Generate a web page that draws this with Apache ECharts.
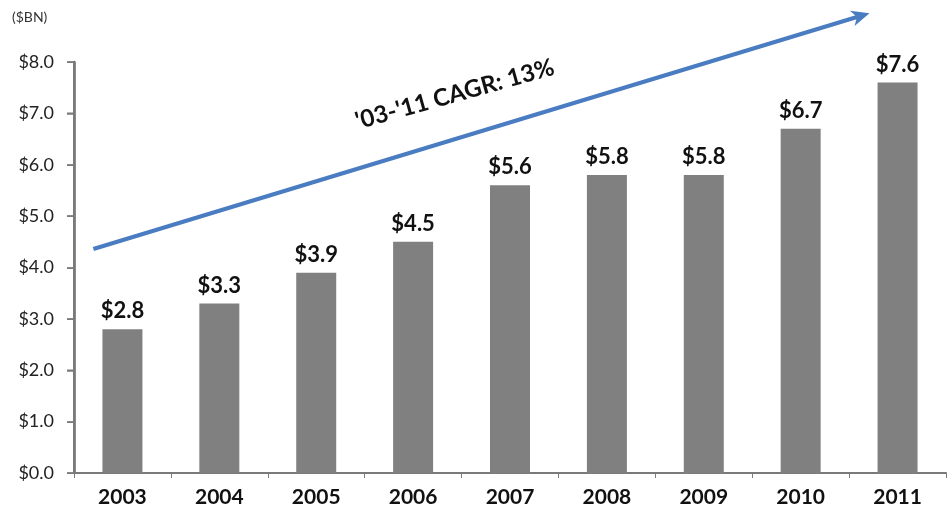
<!DOCTYPE html>
<html>
<head>
<meta charset="utf-8">
<script src="https://cdn.jsdelivr.net/npm/echarts@6/dist/echarts.min.js"></script>
<style>
  html, body { margin: 0; padding: 0; background: #ffffff; }
  #chart { width: 952px; height: 520px; }
</style>
</head>
<body>
<div id="chart"></div>
<script>
// ---- data ----
const years = ['2003', '2004', '2005', '2006', '2007', '2008', '2009', '2010', '2011'];
const values = [2.8, 3.3, 3.9, 4.5, 5.6, 5.8, 5.8, 6.7, 7.6];
const yMin = 0, yMax = 8, yStep = 1;
const yTicks = [0, 1, 2, 3, 4, 5, 6, 7, 8];
const unitLabel = '($BN)';
const cagrLabel = "'03-'11 CAGR: 13%";
// arrow annotation in data units (x = category index position, y = value)
const arrowFrom = [-0.30, 4.36];
const arrowTo = [7.71, 8.95];
const cagrTextAt = [3.43, 7.37];

const FONT = 'Lato, "Open Sans", sans-serif';
const AXIS_GRAY = '#7a7a7a';
const BAR_GRAY = '#808080';
const ARROW_BLUE = '#4A7CC2';
const chart = echarts.init(document.getElementById('chart'));

function renderAnnotation(params, api) {
  const c0 = api.coord([0, 0]);
  const c1 = api.coord([1, 0]);
  const step = c1[0] - c0[0];
  const toPx = p => [c0[0] + p[0] * step, api.coord([0, p[1]])[1]];
  const p1 = toPx(arrowFrom), p2 = toPx(arrowTo), pt = toPx(cagrTextAt);
  const dx = p2[0] - p1[0], dy = p2[1] - p1[1];
  const len = Math.sqrt(dx * dx + dy * dy);
  const ux = dx / len, uy = dy / len;
  const headLen = 18, headHalf = 8;
  const base = [p2[0] - ux * headLen, p2[1] - uy * headLen];
  const notch = [p2[0] - ux * (headLen - 5), p2[1] - uy * (headLen - 5)];
  const ang = Math.atan2(p1[1] - p2[1], p2[0] - p1[0]);
  const axisX = Math.round(c0[0] - step / 2);
  const children = [{
    type: 'rect',
    shape: { x: axisX - 1, y: toPx([0, yMax])[1], width: 2.5, height: toPx([0, yMin])[1] - toPx([0, yMax])[1] + 1 },
    style: { fill: AXIS_GRAY }
  }];
  yTicks.forEach(t => {
    const y = Math.round(toPx([0, t])[1]);
    children.push({
      type: 'rect',
      shape: { x: axisX - 7, y: y - 0.5, width: 7, height: 1.5 },
      style: { fill: AXIS_GRAY }
    });
  });
  children.push({
    type: 'line',
    shape: { x1: p1[0], y1: p1[1], x2: notch[0], y2: notch[1] },
    style: { stroke: ARROW_BLUE, lineWidth: 4 }
  }, {
    type: 'polygon',
    shape: { points: [
      p2,
      [base[0] - uy * headHalf, base[1] + ux * headHalf],
      notch,
      [base[0] + uy * headHalf, base[1] - ux * headHalf]
    ] },
    style: { fill: ARROW_BLUE }
  }, {
    type: 'text',
    x: pt[0], y: pt[1],
    rotation: ang * 0.92,
    style: {
      text: cagrLabel, fill: '#111',
      font: 'bold 24px ' + FONT,
      textAlign: 'center', textVerticalAlign: 'middle',
      align: 'center', verticalAlign: 'middle'
    }
  });
  return { type: 'group', children: children };
}

chart.setOption({
  animation: false,
  backgroundColor: '#ffffff',
  grid: { left: 74, right: 6, top: 62, bottom: 47, containLabel: false },
  graphic: [{
    type: 'text', left: 12, top: 10,
    style: { text: unitLabel, font: '14px ' + FONT, fill: '#333' }
  }],
  xAxis: {
    type: 'category',
    position: 'bottom',
    data: years,
    axisLine: { show: true, onZero: false, lineStyle: { color: AXIS_GRAY, width: 2 } },
    axisTick: { show: true, length: 5, lineStyle: { color: AXIS_GRAY, width: 1 } },
    axisLabel: { color: '#111', fontFamily: FONT, fontWeight: 'bold', fontSize: 21, margin: 14 }
  },
  yAxis: {
    type: 'value',
    position: 'left',
    min: yMin, max: yMax, interval: yStep,
    axisLine: { show: true, onZero: false, lineStyle: { color: AXIS_GRAY, width: 2.5 } },
    axisTick: { show: true, length: 7, lineStyle: { color: AXIS_GRAY, width: 1.5 } },
    splitLine: { show: false },
    axisLabel: {
      color: '#222', fontFamily: FONT, fontSize: 18, margin: 20,
      formatter: v => '$' + v.toFixed(1)
    }
  },
  series: [{
    type: 'bar',
    data: values,
    barWidth: 40,
    itemStyle: { color: BAR_GRAY },
    label: {
      show: true, position: 'top', distance: 7,
      color: '#111', fontFamily: FONT, fontWeight: 'bold', fontSize: 22,
      formatter: p => '$' + p.value.toFixed(1)
    }
  }, {
    type: 'custom',
    clip: false,
    silent: true,
    z: 5,
    data: [[0, 0]],
    renderItem: renderAnnotation
  }]
});
</script>
</body>
</html>
